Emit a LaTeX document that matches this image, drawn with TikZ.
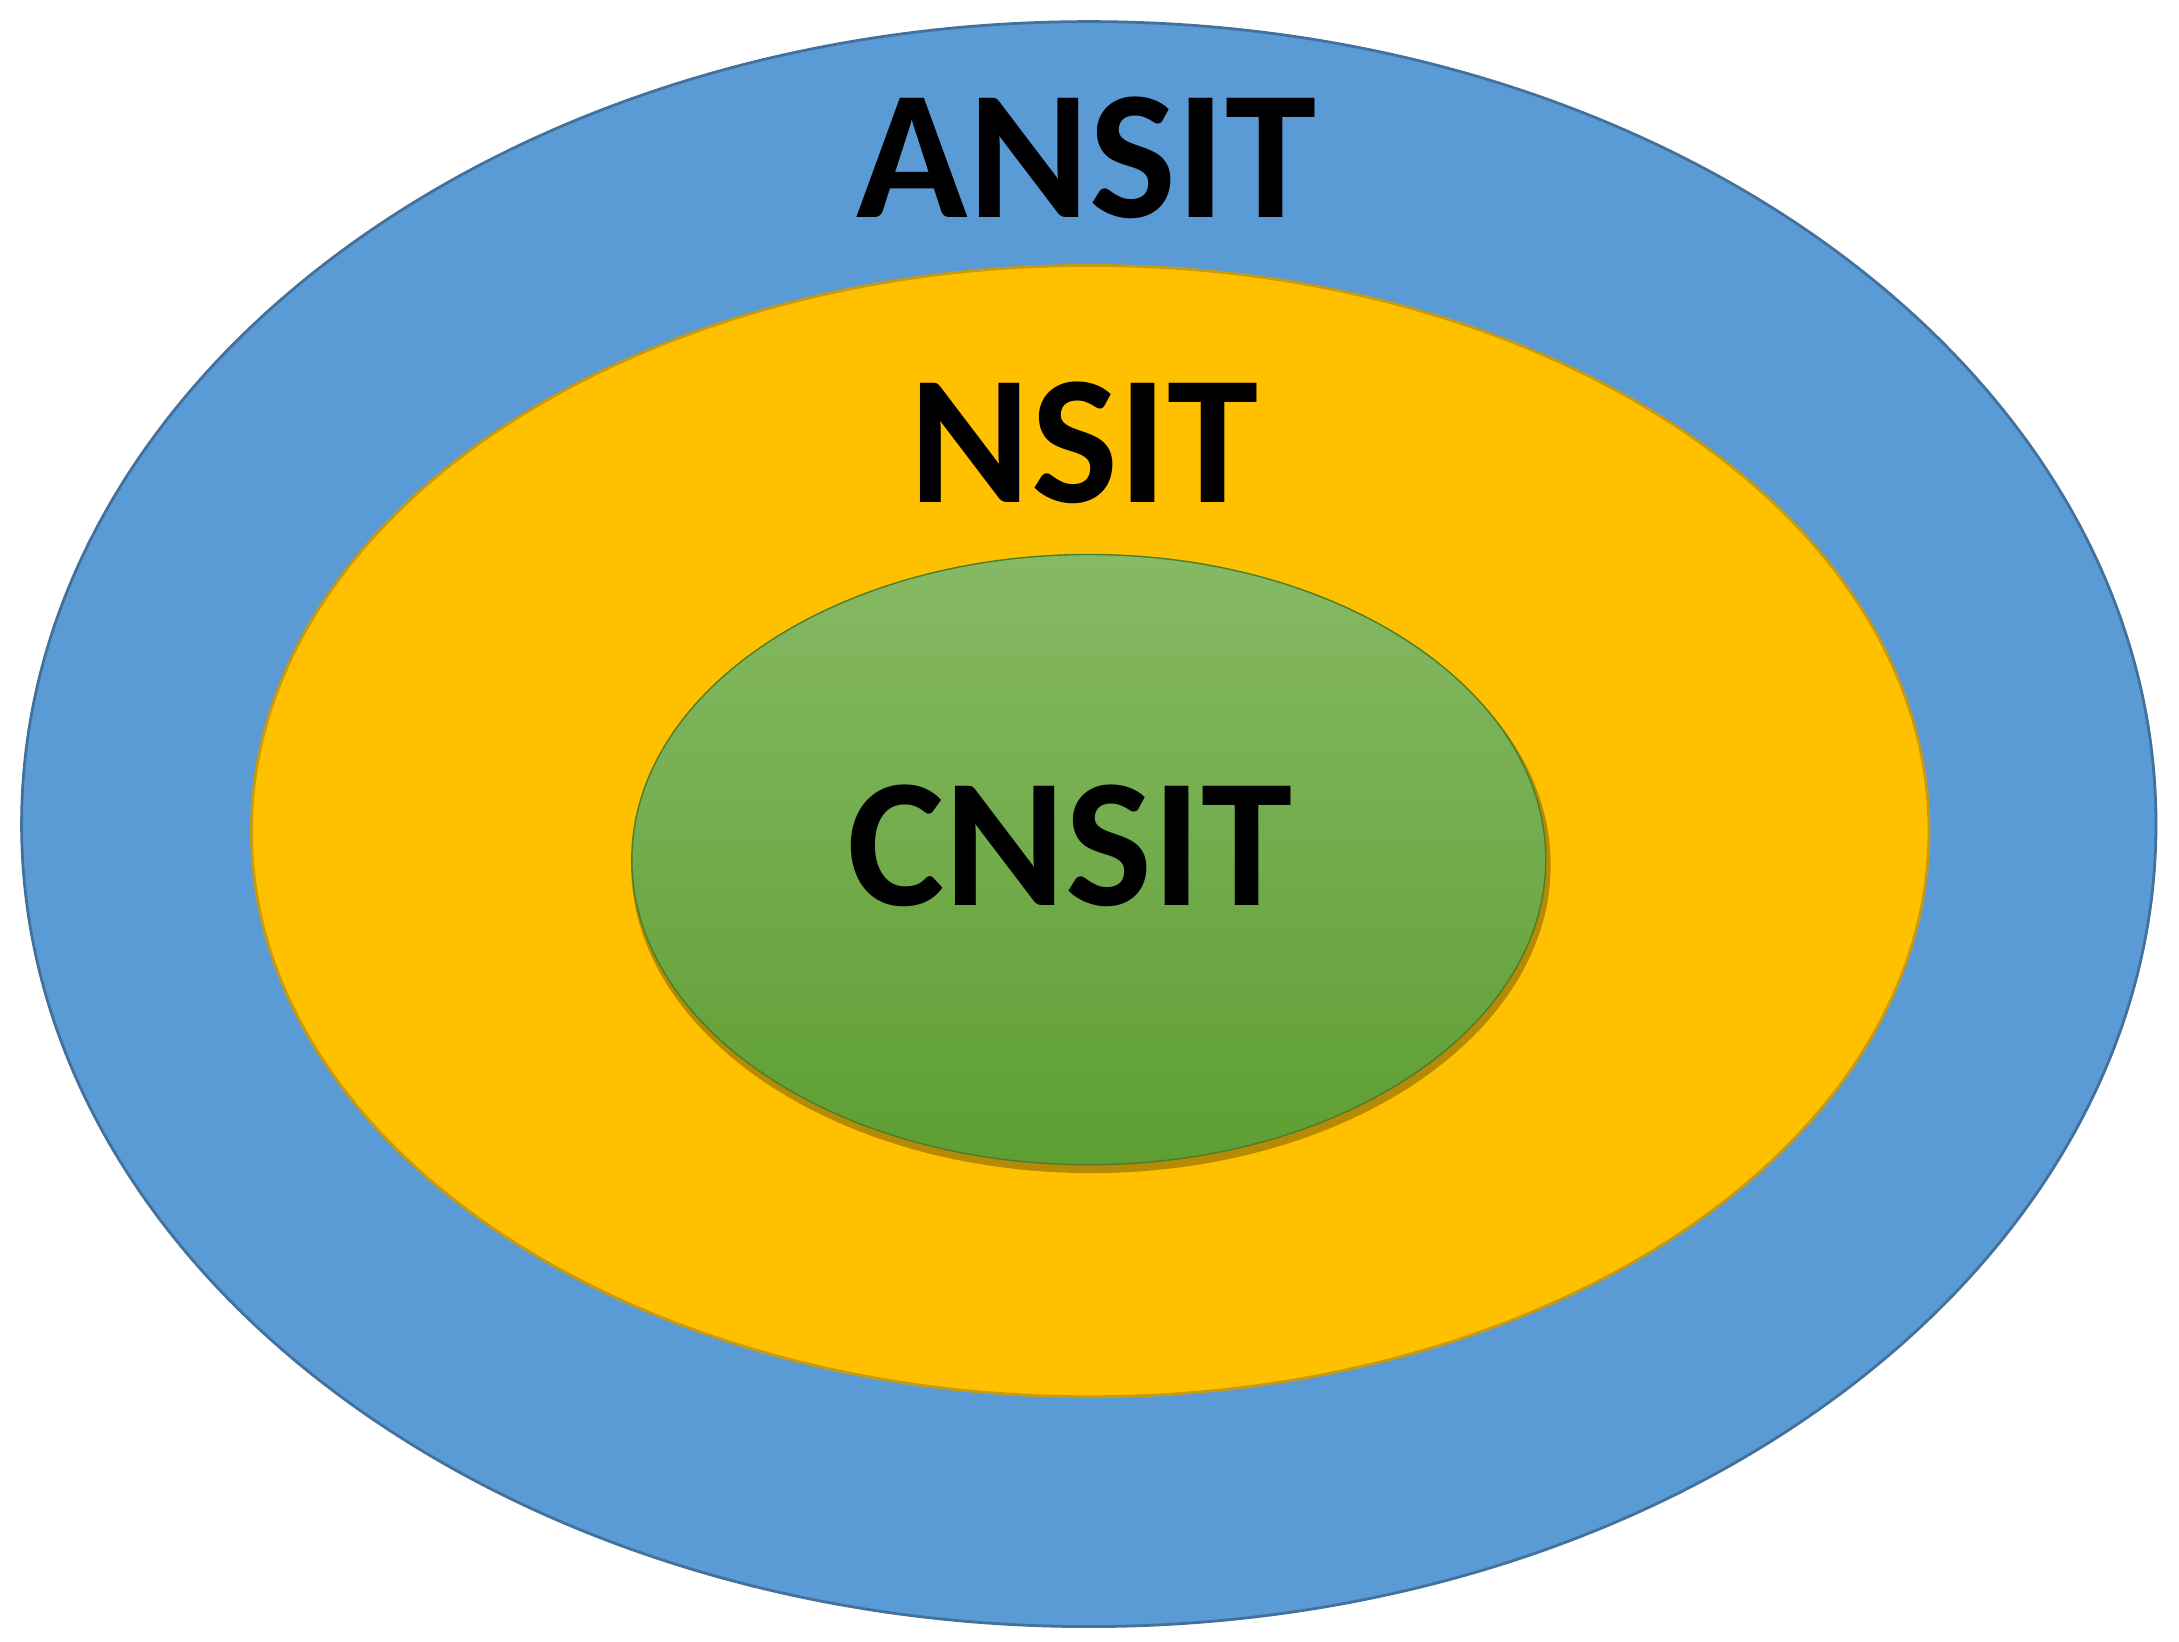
\documentclass[tikz,border=0pt]{standalone}
\usepackage{fontspec}
\setmainfont{Carlito}
\definecolor{bl}{HTML}{5B9BD5}
\definecolor{blb}{HTML}{41719C}
\definecolor{ye}{HTML}{FFC000}
\definecolor{yeb}{HTML}{C89A10}
\definecolor{gt}{HTML}{86B964}
\definecolor{gb}{HTML}{5E9E32}
\begin{document}
\begin{tikzpicture}[x=1pt,y=-1pt,
  lbl/.style={font=\fontsize{132}{140}\selectfont\bfseries, inner sep=0pt}]
\useasboundingbox (0,0) rectangle (1564,1178);
\fill[white] (0,0) rectangle (1564,1178);
\draw[blb, line width=2, fill=bl] (781.5,591.5) ellipse [x radius=766, y radius=576];
\draw[yeb, line width=2, fill=ye] (782.5,596.5) ellipse [x radius=602, y radius=406];
\fill[black!45!yeb, opacity=0.5] (783,621) ellipse [x radius=330, y radius=221];
\shade[top color=gt, bottom color=gb, draw=gb!80!black, line width=1] (781.5,617) ellipse [x radius=328, y radius=219];
\node[lbl] (a) at (780,113) {ANSIT};
\node[lbl] (n) at (778,318) {NSIT};
\node[lbl] (c) at (768,607) {CNSIT};
\end{tikzpicture}
\end{document}
